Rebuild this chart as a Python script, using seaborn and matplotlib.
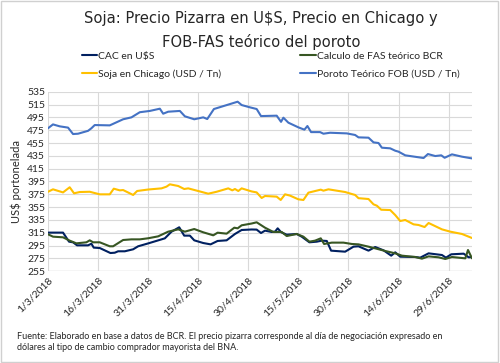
import pandas as pd
import numpy as np
import matplotlib
matplotlib.use("Agg")
import matplotlib.pyplot as plt
import seaborn as sns
from matplotlib.lines import Line2D
from matplotlib.patches import Rectangle
from matplotlib import font_manager

start = pd.Timestamp("2018-03-01")

# days after 1/3/2018 and US$/t
fob_day = [0, 1.5, 3.5, 6, 7.5, 9, 12, 13, 14, 18.5, 22.5, 25, 27.5, 30.5, 33.5, 34.5, 36, 39.5, 41,
           43.8, 46.5, 47.7, 49.7, 56.8, 58, 60.5, 62.5, 63.8, 68.5, 69.8, 70.5, 72, 75, 76.8, 77.7,
           78.8, 81.5, 82.5, 84.5, 89.5, 92, 93, 96, 97.5, 99, 100, 102.5, 104, 105, 107, 112.5,
           113.8, 116, 117.8, 118.8, 121, 124, 127]
fob_val = [478, 484, 481, 479, 469, 469.5, 474, 478, 483, 482.5, 492, 495, 503, 505, 508.5, 500.7, 503.8,
           505, 496.6, 492, 495, 492.4, 508, 519.4, 514.2, 510.6, 508, 497, 497.6, 488, 494.5, 486.7,
           479.4, 475.8, 481.5, 472, 472, 469.5, 471, 470, 467.5, 463.8, 463.3, 456, 455, 447.7, 446.7,
           443, 441.5, 435.8, 431.6, 437.8, 434.7, 435.8, 432, 437.3, 433.7, 431]

chi_day = [0, 1.5, 4.5, 6.5, 7.8, 9.5, 12.5, 15.5, 18.5, 19.7, 21.5, 22.5, 25.5, 26.7, 30, 34, 35.5,
           36.5, 39, 40.8, 42, 48, 50.5, 54, 55.2, 56, 57, 58, 61, 62.5, 64, 65, 68.5, 69.7, 71, 72.5,
           75, 76.5, 78, 81.7, 82.5, 84, 89, 91, 92, 93, 96, 97.5, 98.5, 99.8, 102.5, 104, 105.5, 107,
           109.5, 111, 112.8, 114, 118, 120.5, 124, 127]
chi_val = [379, 382.8, 378, 386, 376.6, 378.6, 379, 375, 375, 383.8, 381.2, 381.7, 374, 380.2, 382.5,
           384.3, 387, 390.6, 388, 383.3, 384.3, 376, 379, 384.3, 381.2, 383.3, 380.2, 384.3, 379.5,
           378, 369.3, 372.4, 371.4, 366.2, 375, 373, 367.2, 366.2, 377.6, 382.3, 380.7, 382.8, 378.6,
           375.5, 374, 369, 367.7, 359.4, 357.3, 351, 350.5, 342.7, 333.4, 335, 328.2, 327.2, 324,
           330.3, 320.4, 316.8, 313.2, 306.9]

cac_day = [0, 4.5, 6.3, 7.5, 8.7, 12, 13, 13.7, 15.5, 18.7, 20, 21, 23, 25.5, 27, 30, 34, 35, 37, 39.3,
           40.8, 42.5, 43.8, 46.5, 48.7, 50.8, 53.5, 56, 58, 61, 62.5, 63.8, 65, 67, 68, 68.8, 69.8,
           71.5, 74.5, 76, 78.3, 80.5, 82, 83.5, 84.8, 89, 91.5, 93, 96, 98, 100.5, 102.8, 104, 105.5,
           110, 111.5, 114, 118, 119.2, 120.8, 124.5, 126, 127]
cac_val = [315.3, 315.3, 301.2, 300.2, 295.5, 295.5, 298, 291.9, 291.3, 283.5, 284, 286.2, 286.2, 289.3,
           294, 298.5, 304.8, 306.4, 316.8, 323.6, 310.6, 310.6, 303.3, 299.1, 297, 302.3, 303.3, 313.2,
           319.4, 320.2, 320, 314.7, 318.4, 316.3, 316.8, 322, 316, 312.1, 313.2, 309, 300.2, 301.2,
           302.8, 302.3, 287.2, 285.6, 293.4, 294, 287.2, 292.9, 287.7, 279.4, 284.6, 277.8, 277.3,
           276.3, 283, 280.4, 276.3, 281.5, 282.5, 276.8, 277.3]

fas_day = [0, 1.5, 4.5, 6.5, 8.5, 11.5, 12.5, 13.5, 15.5, 18.5, 19.5, 22.5, 25, 27.5, 30, 33, 36, 39,
           41, 43.8, 46.5, 49.5, 50.8, 53.5, 55.8, 56.8, 58, 61, 62.5, 65, 67.5, 70, 71.5, 74.5, 76.5,
           78.3, 80, 81.7, 82.7, 85, 88.5, 91, 93, 96, 98, 101, 104, 106, 110, 112, 114, 117, 119, 121,
           125, 125.8, 127]
fas_val = [312.7, 309, 308, 302.8, 298.6, 300.2, 303.3, 300.2, 300.2, 294, 294, 303.8, 304.8, 304.8,
           306.5, 309.5, 316.8, 320.4, 316.8, 320.9, 315.8, 311.1, 315.2, 313.7, 323, 322, 326.7, 329.5,
           331.4, 323, 316.3, 316.3, 310, 313.2, 309, 301.2, 302.8, 306.4, 297.6, 299.7, 299.7, 297.6,
           297, 293.4, 290.8, 286.7, 283, 279.4, 277.3, 274.7, 278.3, 276.8, 274.2, 277.3, 275.2, 288.2,
           275.2]

series = [
    ("CAC en U$S", cac_day, cac_val, "#002060"),
    ("Calculo de FAS teórico BCR", fas_day, fas_val, "#375623"),
    ("Soja en Chicago (USD / Tn)", chi_day, chi_val, "#FFC000"),
    ("Poroto Teórico FOB (USD / Tn)", fob_day, fob_val, "#4472C4"),
]

sns.set_theme(style="white")
plt.rcParams["font.family"] = ["Lato", "DejaVu Sans"]

fig = plt.figure(figsize=(5, 3.63), dpi=100)
ax = fig.add_axes([0.096, 0.2526, 0.848, 0.4948])

for name, days, vals, col in series:
    df = pd.DataFrame({"fecha": start + pd.to_timedelta(days, unit="D"), "valor": vals})
    sns.lineplot(data=df, x="fecha", y="valor", color=col, lw=1.5, ax=ax, label=name, legend=False)

ticks = pd.date_range(start, periods=9, freq="15D")
ax.set_xticks(ticks)
ax.set_xticklabels([f"{d.day}/{d.month}/{d.year}" for d in ticks], rotation=45,
                   ha="right", rotation_mode="anchor", fontsize=7.5)
ax.set_xlim(start, start + pd.Timedelta(days=127))
ax.set_ylim(255, 535)
ax.set_yticks(np.arange(255, 536, 20))
ax.tick_params(axis="y", labelsize=7.5, pad=2, length=0)
ax.tick_params(axis="x", pad=3, length=0)
ax.grid(True, color="#D9D9D9", lw=0.8)
for s in ax.spines.values():
    s.set_visible(False)
ax.axhline(255, color="#D9D9D9", lw=1)
ax.set_xlabel("")
ax.set_ylabel("US$ portonelada", fontsize=8, labelpad=4)

title_font = font_manager.FontProperties(family="DejaVu Sans", stretch="condensed", size=11.8)
fig.text(0.522, 0.9375, "Soja: Precio Pizarra en U$S, Precio en Chicago y", ha="center",
         va="baseline", fontproperties=title_font)
fig.text(0.522, 0.8713, "FOB-FAS teórico del poroto", ha="center", va="baseline",
         fontproperties=title_font)

handles = [Line2D([], [], color=c, lw=1.5) for _, _, _, c in series]
labels = [n for n, _, _, _ in series]
order = [0, 2, 1, 3]
fig.legend([handles[i] for i in order], [labels[i] for i in order], ncol=2,
           loc="upper left", bbox_to_anchor=(0.163, 0.858), frameon=False, fontsize=7.5,
           handlelength=1.5, handletextpad=0.1, columnspacing=7.6, labelspacing=0.78,
           borderaxespad=0, borderpad=0)

fig.text(0.034, 0.059, "Fuente: Elaborado en base a datos de BCR. El precio pizarra corresponde al día de negociación expresado en\n"
         "dólares al tipo de cambio comprador mayorista del BNA.", ha="left", va="center",
         fontsize=6.5, linespacing=1.3)

fig.patches.append(Rectangle((0.002, 0.003), 0.994, 0.994, transform=fig.transFigure,
                             fill=False, ec="#D0D0D0", lw=1))

fig.savefig("out.png", dpi=100)
